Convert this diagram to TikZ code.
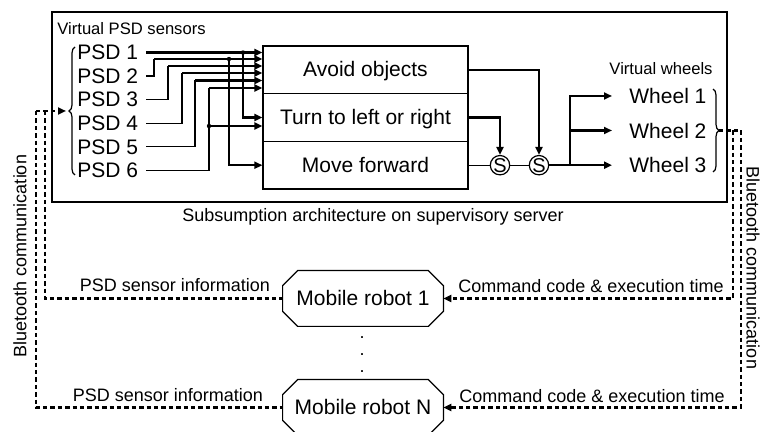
\documentclass[tikz,border=0pt]{standalone}
\usepackage{fontspec}
\setmainfont{Liberation Sans}
\usetikzlibrary{arrows.meta,decorations.pathreplacing,calc}
\newcommand\octframe[1]{\draw[thinln] ([xshift=7.5pt]#1.north west) -- ([xshift=-7.5pt]#1.north east) -- ([yshift=-7.5pt]#1.north east) -- ([yshift=7.5pt]#1.south east) -- ([xshift=-7.5pt]#1.south east) -- ([xshift=7.5pt]#1.south west) -- ([yshift=7.5pt]#1.south west) -- ([yshift=-7.5pt]#1.north west) -- cycle;}
\begin{document}
\begin{tikzpicture}[x=0.5pt,y=-0.5pt,
 thinln/.style={line width=0.6pt},
 thickln/.style={line width=1.05pt},
 arr/.style={thickln,-{Triangle[length=4pt,width=3.5pt]}},
 dline/.style={line width=1.1pt,dash pattern=on 2.2pt off 1.5pt},
 darr/.style={dline,-{Triangle[length=4pt,width=3.5pt]}},
 big/.style={font=\fontsize{10.5}{12}\selectfont},
 small/.style={font=\fontsize{8.3}{10}\selectfont},
 mid/.style={font=\fontsize{9}{11}\selectfont},
 psd/.style={big,anchor=west,inner xsep=4pt,inner ysep=0pt},
 beh/.style={draw,thinln,big,minimum width=102.5pt,minimum height=23.85pt,inner sep=0pt,text height=0.72em,text depth=0pt},
 swn/.style={circle,draw,thinln,inner sep=0pt,minimum size=8.5pt,font=\fontsize{10}{10}\selectfont},
 jdot/.style={circle,fill,inner sep=0pt,minimum size=2.2pt},
 robot/.style={big,minimum width=80pt,minimum height=27.5pt,inner sep=0pt,text height=0.72em,text depth=0pt},
 wheel/.style={big,anchor=west,inner sep=0pt},
]
\useasboundingbox (0,0) rectangle (760,432);
% outer frame
\draw[thinln] (52,12) rectangle (727,202);
\node[small,anchor=west,inner sep=0pt] (vpsd) at (57,29) {Virtual PSD sensors};
\node[small] (vwh) at (661,69) {Virtual wheels};
\node[mid,anchor=base] (subs) at (373,222) {Subsumption architecture on supervisory server};

% PSD labels
\node[psd] (psd1) at (69,52.5) {PSD 1};
\node[psd] (psd2) at (69,76.1) {PSD 2};
\node[psd] (psd3) at (69,99.7) {PSD 3};
\node[psd] (psd4) at (69,123.3) {PSD 4};
\node[psd] (psd5) at (69,146.9) {PSD 5};
\node[psd] (psd6) at (69,170.5) {PSD 6};

% behaviour boxes
\node[beh] (avoid) at (365.5,69.8) {Avoid objects};
\node[beh] (turn) at (365.5,117.5) {Turn to left or right};
\node[beh] (move) at (365.5,165.2) {Move forward};

% junctions
\coordinate (j2) at (154,59);
\coordinate (j3) at (168,66);
\coordinate (j4) at (182,73);
\coordinate (j5) at (195,80.5);
\coordinate (j6) at (209,88);
\coordinate (b1) at (243,52.5);
\coordinate (b2) at (229,59);
\coordinate (b6) at (209,126);

\draw[thinln] (psd2.east) -| (j2);
\draw[thinln] (psd3.east) -| (j3);
\draw[thinln] (psd4.east) -| (j4);
\draw[thinln] (psd5.east) -| (j5);
\draw[thinln] (psd6.east) -| (j6);

\draw[arr] (psd1.east) -- (psd1.east -| avoid.west);
\draw[arr] (j2) -- (j2 -| avoid.west);
\draw[arr] (j3) -- (j3 -| avoid.west);
\draw[arr] (j4) -- (j4 -| avoid.west);
\draw[arr] (j5) -- (j5 -| avoid.west);
\draw[arr] (j6) -- (j6 -| avoid.west);

\draw[arr] (b1) |- (turn.west);
\draw[arr] (b6) -- (b6 -| turn.west);
\draw[arr] (b2) |- (move.west);
\node[jdot] (d1) at (b1) {};
\node[jdot] (d2) at (b2) {};
\node[jdot] (d6) at (b6) {};

% suppressors
\node[swn] (s1) at (500,165.2) {S};
\node[swn] (s2) at (539,165.2) {S};
\draw[thinln] (move.east) -- (s1.west);
\draw[thinln] (s1.east) -- (s2.west);
\draw[arr] (turn.east) -| (s1.north);
\draw[arr] (avoid.east) -| (s2.north);

% wheels
\node[wheel] (wh1) at (629,96) {Wheel 1};
\node[wheel] (wh2) at (629,130.5) {Wheel 2};
\node[wheel] (wh3) at (629,165.2) {Wheel 3};
\coordinate (jw) at (570,165.2);
\draw[arr] (s2.east) -- ([xshift=-8.5pt]wh3.west);
\draw[arr] (jw) |- ([xshift=-8.5pt]wh1.west);
\draw[arr] (jw) |- ([xshift=-8.5pt]wh2.west);

% braces
\draw[thinln,decorate,decoration={brace,amplitude=3pt}] (75,175) -- (75,47);
\draw[thinln,decorate,decoration={brace,amplitude=3pt}] (713,89) -- (713,172);
\coordinate (lbt) at (69,111);
\coordinate (rbt) at (719,130.5);

% robots
\node[robot] (rob1) at (363,298.5) {Mobile robot 1};
\node[robot] (robN) at (363,407.5) {Mobile robot N};
\octframe{rob1}
\octframe{robN}
\node[mid,anchor=base] (dot1) at (362,339) {.};
\node[mid,anchor=base] (dot2) at (362,356) {.};
\node[mid,anchor=base] (dot3) at (362,373) {.};

% bluetooth links
\coordinate (L0) at (36,111);
\coordinate (L1) at (45,111);
\coordinate (R1) at (733,130.5);
\coordinate (R0) at (741,130.5);
\draw[darr,shorten >=1.5pt] (L0) -- (lbt);
\draw[dline] (L0) |- (robN.west);
\draw[dline] (L1) |- (rob1.west);
\draw[dline] (rbt) -- (R0);
\draw[darr] (R1) |- (rob1.east);
\draw[darr] (R0) |- (robN.east);

\node[mid,anchor=base] (pi1) at (175,292) {PSD sensor information};
\node[mid,anchor=base] (pi2) at (168,401) {PSD sensor information};
\node[mid,anchor=base] (cc1) at (591,293) {Command code \& execution time};
\node[mid,anchor=base] (cc2) at (592,402) {Command code \& execution time};
\node[mid,rotate=90] (bt1) at (20,256) {Bluetooth communication};
\node[mid,rotate=-90] (bt2) at (753,268) {Bluetooth communication};
\end{tikzpicture}
\end{document}
